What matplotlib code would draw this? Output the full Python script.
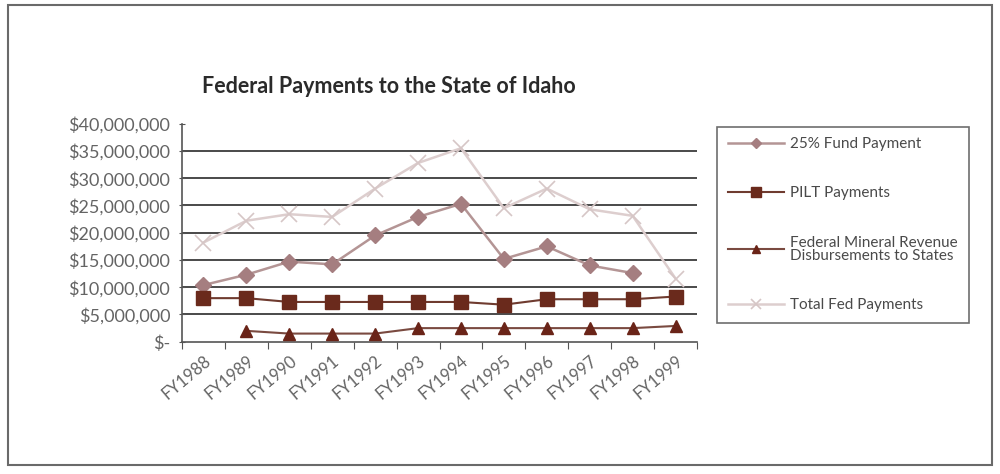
import numpy as np
import matplotlib
matplotlib.use("Agg")
from matplotlib import pyplot as plt
from matplotlib.patches import Rectangle
from matplotlib.ticker import FuncFormatter, FixedLocator

plt.rcParams["font.family"] = ["Lato", "DejaVu Sans"]

# Fiscal years and payments (dollars); None where no value was reported
years = ["FY1988", "FY1989", "FY1990", "FY1991", "FY1992", "FY1993",
         "FY1994", "FY1995", "FY1996", "FY1997", "FY1998", "FY1999"]
fund25 = [10.4e6, 12.3e6, 14.7e6, 14.2e6, 19.5e6, 22.9e6,
          25.3e6, 15.2e6, 17.5e6, 14.0e6, 12.6e6, None]
pilt = [8.0e6, 8.0e6, 7.3e6, 7.3e6, 7.3e6, 7.3e6,
        7.3e6, 6.8e6, 7.8e6, 7.8e6, 7.8e6, 8.3e6]
mineral = [None, 2.0e6, 1.5e6, 1.5e6, 1.5e6, 2.5e6,
           2.5e6, 2.5e6, 2.5e6, 2.5e6, 2.5e6, 2.9e6]
total = [18.2e6, 22.2e6, 23.4e6, 22.9e6, 28.1e6, 32.8e6,
         35.5e6, 24.5e6, 28.1e6, 24.3e6, 23.1e6, 11.6e6]

def arr(v):
    return np.array([np.nan if x is None else x for x in v], dtype=float)

fig = plt.figure(figsize=(10, 4.74), dpi=100)
ax = fig.add_axes([0.182, 0.279, 0.515, 0.460])

x = np.arange(len(years))
grey_txt = "#646464"

# horizontal gridlines
for gy in np.arange(5e6, 40e6, 5e6):
    ax.axhline(gy, color="#4a4a4a", lw=1.4, zorder=1)

l_fund, = ax.plot(x, arr(fund25), "-D", color="#b49595", mfc="#a57e80",
                  mec="#a57e80", ms=8, lw=1.8, zorder=3, label="25% Fund Payment")
l_pilt, = ax.plot(x, arr(pilt), "-s", color="#6f3b2f", mfc="#6a2a1c",
                  mec="#6a2a1c", ms=10, lw=1.5, zorder=4, label="PILT Payments")
l_min, = ax.plot(x, arr(mineral), "-^", color="#7a4a40", mfc="#6a2418",
                 mec="#6a2418", ms=9, lw=1.5, zorder=4,
                 label="Federal Mineral Revenue\nDisbursements to States")
l_tot, = ax.plot(x, arr(total), "-x", color="#ddcece", mec="#d6c6c6",
                 ms=11, mew=1.2, lw=1.8, zorder=2, label="Total Fed Payments")

ax.set_xlim(-0.5, len(years) - 0.5)
ax.set_ylim(0, 40e6)

ax.yaxis.set_major_locator(FixedLocator(np.arange(0, 40.1e6, 5e6)))
ax.yaxis.set_major_formatter(FuncFormatter(
    lambda v, p: "$-" if v == 0 else "${:,.0f}".format(v)))

ax.xaxis.set_major_locator(FixedLocator(np.arange(-0.5, len(years), 1.0)))
ax.xaxis.set_minor_locator(FixedLocator(x))
ax.set_xticklabels([], minor=False)
ax.set_xticklabels(years, minor=True, rotation=40, ha="right",
                   rotation_mode="anchor")
ax.tick_params(axis="x", which="minor", length=0, pad=8,
               labelsize=12, labelcolor=grey_txt)
ax.tick_params(axis="x", which="major", length=5, color="#555555", direction="out")
ax.tick_params(axis="y", length=5, color="#555555", direction="inout",
               labelsize=13, labelcolor=grey_txt, pad=6)

for s in ["top", "right"]:
    ax.spines[s].set_visible(False)
for s in ["left", "bottom"]:
    ax.spines[s].set_color("#555555")
    ax.spines[s].set_linewidth(1.2)

fig.text(0.389, 0.818, "Federal Payments to the State of Idaho",
         ha="center", va="center", fontsize=15.5, fontweight="bold",
         color="#2a2a2a")

leg = fig.legend(handles=[l_fund, l_pilt, l_min, l_tot],
                 loc="upper left", bbox_to_anchor=(0.717, 0.733),
                 frameon=True, fancybox=False, edgecolor="#4a4a4a",
                 fontsize=11, labelspacing=2.3, handlelength=3.7,
                 handletextpad=0.4, borderpad=0.7, borderaxespad=0,
                 markerscale=0.7)
leg.get_frame().set_linewidth(1.2)
for t in leg.get_texts():
    t.set_color("#4a4a4a")
    t.set_linespacing(0.95)

# outer border
fig.patches.append(Rectangle((0.008, 0.019), 0.984, 0.970,
                             transform=fig.transFigure, fill=False,
                             edgecolor="#6a6a6a", lw=1.5))

fig.savefig("out.png", dpi=100, facecolor="white")
